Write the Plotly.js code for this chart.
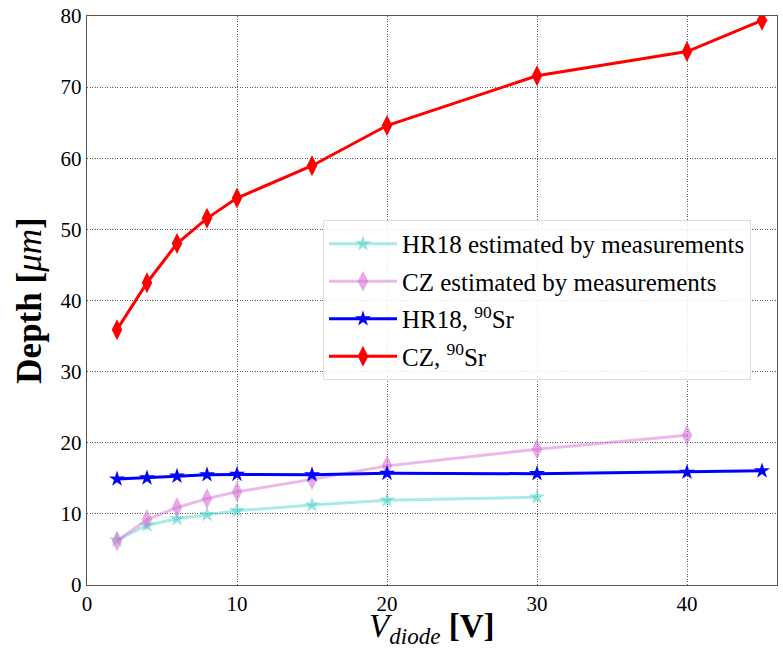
<!DOCTYPE html>
<html>
<head>
<meta charset="utf-8">
<script src="https://cdn.plot.ly/plotly-3.0.1.min.js"></script>
<style>body{margin:0;padding:0;background:#fff}#chart{width:783px;height:648px}</style>
</head>
<body>
<div id="chart"></div>
<script>
// Data
var hrEstX = [2, 4, 6, 8, 10, 15, 20, 30];
var hrEstY = [6.3, 8.4, 9.3, 9.9, 10.45, 11.25, 11.9, 12.35];
var czEstX = [2, 4, 6, 8, 10, 15, 20, 30, 40];
var czEstY = [6.2, 9.2, 10.9, 12.15, 13.1, 14.85, 16.75, 19.1, 21.05];
var hrSrX = [2, 4, 6, 8, 10, 15, 20, 30, 40, 45];
var hrSrY = [14.9, 15.05, 15.3, 15.5, 15.55, 15.5, 15.7, 15.65, 15.85, 16.05];
var czSrX = [2, 4, 6, 8, 10, 15, 20, 30, 40, 45];
var czSrY = [35.9, 42.5, 48.0, 51.55, 54.4, 58.95, 64.6, 71.6, 75.0, 79.4];
var seriesNames = [
  'HR18 estimated by measurements',
  'CZ estimated by measurements',
  'HR18, <sup>90</sup>Sr',
  'CZ, <sup>90</sup>Sr'
];
var xTicks = [0, 10, 20, 30, 40];
var yTicks = [0, 10, 20, 30, 40, 50, 60, 70, 80];
var xTitle = '<i>V<sub>diode</sub></i> <b>[V]</b>';
var yTitle = '<b>Depth [</b><i>μm</i><b>]</b>';

var serif = 'Liberation Serif';

var traces = [
  {x: hrEstX, y: hrEstY, name: seriesNames[0], mode: 'lines+markers',
   line: {color: 'rgba(64,208,200,0.45)', width: 3},
   marker: {symbol: 'star', size: 12, color: 'rgba(64,208,200,0.55)'}},
  {x: czEstX, y: czEstY, name: seriesNames[1], mode: 'lines+markers',
   line: {color: 'rgba(218,112,214,0.5)', width: 3},
   marker: {symbol: 'diamond-tall', size: 15, color: 'rgba(218,112,214,0.6)'}},
  {x: hrSrX, y: hrSrY, name: seriesNames[2], mode: 'lines+markers',
   line: {color: '#0000ff', width: 3},
   marker: {symbol: 'star', size: 12, color: '#0000ff'}},
  {x: czSrX, y: czSrY, name: seriesNames[3], mode: 'lines+markers',
   line: {color: '#ff0000', width: 3},
   marker: {symbol: 'diamond-tall', size: 15, color: '#ff0000'}}
];

var layout = {
  width: 783, height: 648,
  margin: {l: 87, r: 6, t: 16, b: 63},
  paper_bgcolor: '#fff', plot_bgcolor: '#fff',
  font: {family: serif, color: '#000', size: 21},
  showlegend: true,
  legend: {
    x: 0.342, y: 0.6415, xanchor: 'left', yanchor: 'top',
    bgcolor: 'rgba(255,255,255,0.85)', bordercolor: '#ddd', borderwidth: 1,
    font: {family: serif, size: 25, color: '#000'},
    itemwidth: 68, tracegroupgap: 2
  },
  xaxis: {
    range: [0, 46], tickvals: xTicks, ticktext: xTicks.map(String),
    showgrid: true, gridcolor: '#333', griddash: '1px,1.5px', gridwidth: 0.8,
    zeroline: false, showline: true, mirror: true, linecolor: '#555', linewidth: 1.2,
    ticks: '', tickfont: {family: serif, size: 21, color: '#000'}
  },
  yaxis: {
    range: [0, 80], tickvals: yTicks, ticktext: yTicks.map(String),
    showgrid: true, gridcolor: '#333', griddash: '1px,1.5px', gridwidth: 0.8,
    zeroline: false, showline: true, mirror: true, linecolor: '#555', linewidth: 1.2,
    ticks: '', tickfont: {family: serif, size: 21, color: '#000'},
    title: {text: yTitle, font: {family: serif, size: 35, color: '#000'}, standoff: 8}
  },
  annotations: [{
    text: xTitle, xref: 'paper', yref: 'paper', x: 0.5, y: -0.077,
    xanchor: 'center', yanchor: 'middle', showarrow: false,
    font: {family: serif, size: 33, color: '#000'}
  }]
};

traces.forEach(function(t, i){ t.legendgroup = 'g' + i; });

Plotly.newPlot('chart', traces, layout, {displayModeBar: false, staticPlot: true});
</script>
</body>
</html>
